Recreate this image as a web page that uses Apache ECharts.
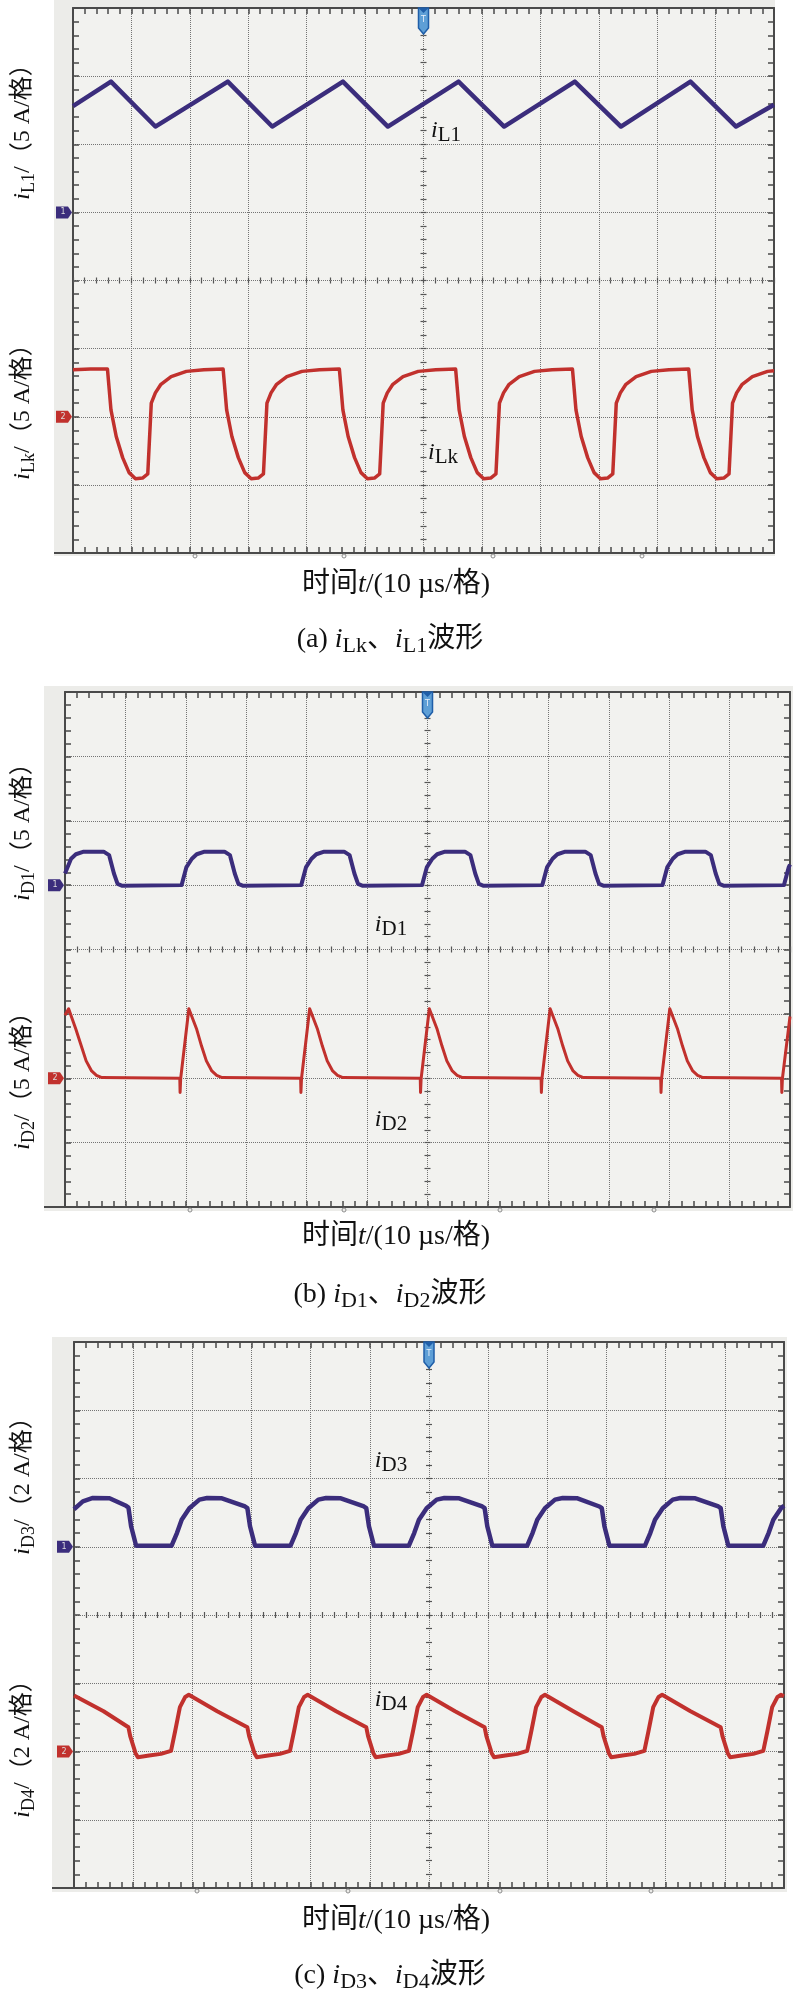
<!DOCTYPE html>
<html><head><meta charset="utf-8">
<script src="https://cdn.jsdelivr.net/npm/echarts@6/dist/echarts.min.js"></script>
<style>html,body{margin:0;padding:0;background:#fff}#c{width:793px;height:2000px}</style>
</head><body><div id="c"></div>
<script>
// ---------- data (time in µs, 10 µs/div, trigger at 0; currents in A) ----------
const timeRange = [-60, 60];
const iL1 = [[-60,7.8],[-53.5,9.6],[-45.9,6.3],[-33.5,9.6],[-25.9,6.3],[-13.8,9.6],[-6.1,6.3],[6.0,9.6],[13.8,6.3],[25.9,9.6],[33.8,6.3],[45.7,9.6],[53.5,6.3],[60,7.9]];
const iLk = [
[-60,3.45],[-57,3.5],
[-54.1,3.5],[-53.5,0.5],[-52.6,-1.45],[-51.5,-3.0],[-50.4,-4.1],[-49.3,-4.55],[-48.1,-4.5],[-47.2,-4.2],[-46.6,1.0],[-45.9,1.75],[-45.0,2.35],[-43.2,2.95],[-40.6,3.33],[-37.6,3.45],
[-34.3,3.5],[-33.7,0.5],[-32.8,-1.45],[-31.7,-3.0],[-30.6,-4.1],[-29.5,-4.55],[-28.3,-4.5],[-27.4,-4.2],[-26.8,1.0],[-26.1,1.75],[-25.2,2.35],[-23.4,2.95],[-20.8,3.33],[-17.8,3.45],
[-14.4,3.5],[-13.8,0.5],[-12.9,-1.45],[-11.8,-3.0],[-10.7,-4.1],[-9.6,-4.55],[-8.4,-4.5],[-7.5,-4.2],[-6.9,1.0],[-6.2,1.75],[-5.3,2.35],[-3.5,2.95],[-0.9,3.33],[2.1,3.45],
[5.5,3.5],[6.1,0.5],[7.0,-1.45],[8.1,-3.0],[9.2,-4.1],[10.3,-4.55],[11.5,-4.5],[12.4,-4.2],[13.0,1.0],[13.7,1.75],[14.6,2.35],[16.4,2.95],[19.0,3.33],[22.0,3.45],
[25.5,3.5],[26.1,0.5],[27.0,-1.45],[28.1,-3.0],[29.2,-4.1],[30.3,-4.55],[31.5,-4.5],[32.4,-4.2],[33.0,1.0],[33.7,1.75],[34.6,2.35],[36.4,2.95],[39.0,3.33],[42.0,3.45],
[45.4,3.5],[46.0,0.5],[46.9,-1.45],[48.0,-3.0],[49.1,-4.1],[50.2,-4.55],[51.4,-4.5],[52.3,-4.2],[52.9,1.0],[53.6,1.75],[54.5,2.35],[56.3,2.95],[58.9,3.33],[60,3.38]];
const iD1 = [
[-60,0.9],[-59.0,2.05],[-58.2,2.4],[-56.9,2.6],[-53.6,2.6],[-52.7,2.33],[-51.9,0.9],[-51.3,0.1],[-50.5,-0.05],
[-40.7,0],[-39.9,1.4],[-39.0,2.05],[-38.2,2.4],[-36.9,2.6],[-33.6,2.6],[-32.7,2.33],[-31.9,0.9],[-31.3,0.1],[-30.5,-0.05],
[-20.9,0],[-20.1,1.4],[-19.2,2.05],[-18.4,2.4],[-17.1,2.6],[-13.8,2.6],[-12.9,2.33],[-12.1,0.9],[-11.5,0.1],[-10.7,-0.05],
[-0.9,0],[-0.1,1.4],[0.8,2.05],[1.6,2.4],[2.9,2.6],[6.2,2.6],[7.1,2.33],[7.9,0.9],[8.5,0.1],[9.3,-0.05],
[19.0,0],[19.8,1.4],[20.7,2.05],[21.5,2.4],[22.8,2.6],[26.1,2.6],[27.0,2.33],[27.8,0.9],[28.4,0.1],[29.2,-0.05],
[38.9,0],[39.7,1.4],[40.6,2.05],[41.4,2.4],[42.7,2.6],[46.0,2.6],[46.9,2.33],[47.7,0.9],[48.3,0.1],[49.1,-0.05],
[59.0,0],[59.8,1.4],[60,1.6]];
const iD2 = [
[-60,4.9],[-59.4,5.4],[-58.2,3.8],[-57.3,2.5],[-56.5,1.35],[-55.6,0.57],[-54.8,0.23],[-53.9,0.05],
[-41.0,0],[-40.95,-1.1],[-40.85,0],[-39.5,5.4],[-38.2,3.8],[-37.4,2.5],[-36.6,1.35],[-35.7,0.57],[-34.9,0.23],[-34.0,0.05],
[-21.0,0],[-20.95,-1.1],[-20.85,0],[-19.5,5.4],[-18.2,3.8],[-17.4,2.5],[-16.6,1.35],[-15.7,0.57],[-14.9,0.23],[-14.0,0.05],
[-1.2,0],[-1.15,-1.1],[-1.05,0],[0.3,5.4],[1.6,3.8],[2.4,2.5],[3.2,1.35],[4.1,0.57],[4.9,0.23],[5.8,0.05],
[18.8,0],[18.85,-1.1],[18.95,0],[20.3,5.4],[21.6,3.8],[22.4,2.5],[23.2,1.35],[24.1,0.57],[24.9,0.23],[25.8,0.05],
[38.6,0],[38.65,-1.1],[38.75,0],[40.1,5.4],[41.4,3.8],[42.2,2.5],[43.0,1.35],[43.9,0.57],[44.7,0.23],[45.6,0.05],
[58.6,0],[58.65,-1.1],[58.75,0],[60,4.8]];
const iD3 = [
[-60,1.10],[-58.5,1.33],[-56.8,1.43],[-54.0,1.42],[-51.2,1.20],[-50.8,1.15],[-50.35,0.6],[-49.5,0.03],[-43.5,0.03],
[-42.6,0.40],[-41.8,0.79],[-40.5,1.13],[-38.8,1.38],[-37.5,1.43],[-35.0,1.42],[-31.1,1.18],[-30.7,1.13],[-30.25,0.6],[-29.4,0.03],[-23.4,0.03],
[-22.5,0.40],[-21.7,0.79],[-20.4,1.13],[-18.7,1.38],[-17.4,1.43],[-14.9,1.42],[-11.0,1.18],[-10.6,1.13],[-10.15,0.6],[-9.3,0.03],[-3.4,0.03],
[-2.5,0.40],[-1.7,0.79],[-0.4,1.13],[1.3,1.38],[2.6,1.43],[5.1,1.42],[9.0,1.18],[9.4,1.13],[9.85,0.6],[10.7,0.03],[16.6,0.03],
[17.5,0.40],[18.3,0.79],[19.6,1.13],[21.3,1.38],[22.6,1.43],[25.1,1.42],[28.8,1.18],[29.2,1.13],[29.65,0.6],[30.5,0.03],[36.5,0.03],
[37.4,0.40],[38.2,0.79],[39.5,1.13],[41.2,1.38],[42.5,1.43],[45.0,1.42],[48.9,1.18],[49.3,1.13],[49.75,0.6],[50.6,0.03],[56.5,0.03],
[57.4,0.40],[58.2,0.79],[59.5,1.13],[60,1.2]];
const iD4 = [
[-60,1.64],[-55,1.18],[-50.8,0.71],
[-50.5,0.45],[-49.6,-0.05],[-49.2,-0.17],[-47.3,-0.12],[-45.3,-0.07],[-43.6,0.02],
[-42.9,0.6],[-42.1,1.3],[-41.2,1.6],[-40.6,1.66],[-35.8,1.18],[-30.7,0.71],
[-30.4,0.45],[-29.5,-0.05],[-29.1,-0.17],[-27.2,-0.12],[-25.2,-0.07],[-23.5,0.02],
[-22.8,0.6],[-22.0,1.3],[-21.1,1.6],[-20.5,1.66],[-15.7,1.18],[-10.6,0.71],
[-10.3,0.45],[-9.4,-0.05],[-9.0,-0.17],[-7.1,-0.12],[-5.1,-0.07],[-3.4,0.02],
[-2.7,0.6],[-1.9,1.3],[-1.0,1.6],[-0.4,1.66],[4.4,1.18],[9.4,0.71],
[9.7,0.45],[10.6,-0.05],[11.0,-0.17],[12.9,-0.12],[14.9,-0.07],[16.6,0.02],
[17.3,0.6],[18.1,1.3],[19.0,1.6],[19.6,1.66],[24.4,1.18],[29.2,0.71],
[29.5,0.45],[30.4,-0.05],[30.8,-0.17],[32.7,-0.12],[34.7,-0.07],[36.4,0.02],
[37.1,0.6],[37.9,1.3],[38.8,1.6],[39.4,1.66],[44.2,1.18],[49.3,0.71],
[49.6,0.45],[50.5,-0.05],[50.9,-0.17],[52.8,-0.12],[54.8,-0.07],[56.5,0.02],
[57.2,0.6],[58.0,1.3],[58.9,1.6],[59.5,1.66],[60,1.62]];

// axis ranges (A): ch1 ground 3 div from top, ch2 ground 6 div from top
const rangeA1 = [-25, 15], rangeA2 = [-10, 30], stepA = 5;
const rangeC1 = [-10, 6], rangeC2 = [-4, 12], stepC = 2;

// ---------- styling ----------
const PURPLE = '#3b2d7c', RED = '#c1312d';
const FONT = "'Liberation Serif','Noto Sans CJK SC',serif";
const GRIDC = '#747474', AXC = '#4a4a4a';

const panels = [
  { grid:{left:73, top:8, width:701, height:545}, box:{x:54, y:0, w:721, h:556},
    ch:[{data:iL1, r:rangeA1, step:stepA, color:PURPLE, w:4.5, label:'1'},
        {data:iLk, r:rangeA2, step:stepA, color:RED, w:3.5, label:'2'}],
    ylab:[{y:126, sub:'L1', unit:'5'}, {y:406, sub:'Lk', unit:'5'}],
    ann:[{x:446, y:131, sub:'L1'}, {x:443, y:453, sub:'Lk'}],
    xlabY:585, capY:640, cap:['a','Lk','L1'], marks:[195,344,493,642] },
  { grid:{left:65, top:692, width:725, height:515}, box:{x:44, y:686, w:749, h:525},
    ch:[{data:iD1, r:rangeA1, step:stepA, color:PURPLE, w:4, label:'1'},
        {data:iD2, r:rangeA2, step:stepA, color:RED, w:3, label:'2'}],
    ylab:[{y:826, sub:'D1', unit:'5'}, {y:1075, sub:'D2', unit:'5'}],
    ann:[{x:391, y:925, sub:'D1'}, {x:391, y:1120, sub:'D2'}],
    xlabY:1237, capY:1295, cap:['b','D1','D2'], marks:[190,344,500,654] },
  { grid:{left:74, top:1342, width:710, height:546}, box:{x:52, y:1337, w:735, h:555},
    ch:[{data:iD3, r:rangeC1, step:stepC, color:PURPLE, w:4.5, label:'1'},
        {data:iD4, r:rangeC2, step:stepC, color:RED, w:4, label:'2'}],
    ylab:[{y:1480, sub:'D3', unit:'2'}, {y:1743, sub:'D4', unit:'2'}],
    ann:[{x:391, y:1461, sub:'D3'}, {x:391, y:1700, sub:'D4'}],
    xlabY:1921, capY:1976, cap:['c','D3','D4'], marks:[197,348,500,651] }
];

const chart = echarts.init(document.getElementById('c'), null, {renderer:'canvas'});
const option = {animation:false, backgroundColor:'#ffffff', grid:[], xAxis:[], yAxis:[], series:[]};

const borderLine = {show:true, onZero:false, lineStyle:{color:AXC, width:2}};
const borderTick = {show:true, inside:true, length:6, lineStyle:{color:AXC, width:1.5}};
const borderMinor = {show:true, splitNumber:5, length:6, lineStyle:{color:AXC, width:1.5}};
const centerTick = (inside) => ({show:true, inside, length:3, lineStyle:{color:'#555', width:1.2}});
const centerMinor = {show:true, splitNumber:5, length:3, lineStyle:{color:'#555', width:1.2}};
const dotted = {show:true, lineStyle:{color:GRIDC, width:1, type:[1,1]}};

panels.forEach((p, k) => {
  const xb = k*4, yb = k*4;
  option.grid.push(Object.assign({show:true, backgroundColor:'#f2f2ef', borderWidth:0, containLabel:false, outerBoundsMode:'none'}, p.grid));
  const xc = {type:'value', gridIndex:k, min:timeRange[0], max:timeRange[1], interval:10, axisLabel:{show:false}, splitLine:{show:false}};
  option.xAxis.push(
    Object.assign({}, xc, {position:'bottom', axisLine:borderLine, axisTick:borderTick, minorTick:borderMinor, splitLine:dotted}),
    Object.assign({}, xc, {position:'top', axisLine:borderLine, axisTick:borderTick, minorTick:borderMinor}),
    Object.assign({}, xc, {position:'bottom', axisLine:{show:false, onZero:true, onZeroAxisIndex:yb+2}, axisTick:centerTick(true), minorTick:centerMinor}),
    Object.assign({}, xc, {position:'bottom', axisLine:{show:false, onZero:true, onZeroAxisIndex:yb+2}, axisTick:centerTick(false), minorTick:centerMinor})
  );
  const c1 = p.ch[0], c2 = p.ch[1];
  option.yAxis.push(
    {type:'value', gridIndex:k, position:'left', min:c1.r[0], max:c1.r[1], interval:c1.step, axisLabel:{show:false},
     axisLine:borderLine, axisTick:borderTick, minorTick:borderMinor, splitLine:dotted},
    {type:'value', gridIndex:k, position:'right', min:c2.r[0], max:c2.r[1], interval:c2.step, axisLabel:{show:false},
     axisLine:borderLine, axisTick:borderTick, minorTick:borderMinor, splitLine:{show:false}},
    {type:'value', gridIndex:k, position:'left', min:-4, max:4, interval:1, axisLabel:{show:false}, splitLine:{show:false},
     axisLine:{show:false, onZero:true, onZeroAxisIndex:xb}, axisTick:centerTick(true), minorTick:centerMinor},
    {type:'value', gridIndex:k, position:'left', min:-4, max:4, interval:1, axisLabel:{show:false}, splitLine:{show:false},
     axisLine:{show:false, onZero:true, onZeroAxisIndex:xb}, axisTick:centerTick(false), minorTick:centerMinor}
  );
  p.ch.forEach((c, j) => {
    option.series.push({type:'line', xAxisIndex:xb, yAxisIndex:yb+j, data:c.data, showSymbol:false, symbol:'none',
      clip:true, z:5, lineStyle:{color:c.color, width:c.w, join:'round'}});
  });
});
chart.setOption(option);

// ---------- texts and markers ----------
function rich(F, Fs, L) {
  return {
    n:{fontSize:F, fontFamily:FONT, lineHeight:L, fill:'#111'},
    i:{fontSize:F, fontFamily:FONT, fontStyle:'italic', lineHeight:L, fill:'#111'},
    s:{fontSize:Fs, fontFamily:FONT, lineHeight:Math.round(Fs*0.6), verticalAlign:'bottom', fill:'#111'}
  };
}
function txt(x, y, str, r, rot) {
  return {type:'text', x, y, rotation:rot||0, z:100, silent:true,
    style:{text:str, rich:r, align:'center', verticalAlign:'middle', fill:'#111', fontFamily:FONT, fontSize:24}};
}
const graphics = [];
panels.forEach((p, k) => {
  const xb = k*4, yb = k*4;
  const g = p.grid, b = p.box;
  graphics.push({type:'rect', z:-100, silent:true, shape:{x:b.x, y:b.y, width:b.w, height:b.h}, style:{fill:'#ecece9'}});
  graphics.push({type:'line', z:50, silent:true, shape:{x1:b.x, y1:g.top+g.height, x2:g.left, y2:g.top+g.height}, style:{stroke:AXC, lineWidth:2}});
  p.marks.forEach(mx => graphics.push({type:'circle', z:50, silent:true, shape:{cx:mx, cy:g.top+g.height+3, r:2}, style:{fill:'none', stroke:'#8a8a8a', lineWidth:1}}));
  p.ylab.forEach(l => graphics.push(txt(23, l.y, '{i|i}{s|' + l.sub + '}{n|/（' + l.unit + ' A/格）}', rich(24, 18, 30), Math.PI/2)));
  p.ann.forEach(a => graphics.push(txt(a.x, a.y, '{i|i}{s|' + a.sub + '}', rich(24, 21, 30))));
  graphics.push(txt(396, p.xlabY, '{n|时间}{i|t}{n|/(10 µs/格)}', rich(28, 22, 34)));
  graphics.push(txt(390, p.capY, '{n|(' + p.cap[0] + ') }{i|i}{s|' + p.cap[1] + '}{n|、}{i|i}{s|' + p.cap[2] + '}{n|波形}', rich(28, 22, 34)));
  p.ch.forEach((c, j) => {
    const pt = chart.convertToPixel({xAxisIndex:xb, yAxisIndex:yb+j}, [timeRange[0], 0]);
    const tx = pt[0] - 1, ty = pt[1];
    graphics.push({type:'polygon', z:60, silent:true, shape:{points:[[tx-16,ty-6],[tx-4,ty-6],[tx,ty],[tx-4,ty+6],[tx-16,ty+6]]}, style:{fill:c.color}});
    graphics.push({type:'text', z:61, silent:true, x:tx-9, y:ty, style:{text:c.label, fill:'#ddd', fontSize:8, fontFamily:'DejaVu Sans', align:'center', verticalAlign:'middle'}});
  });
  const tp = chart.convertToPixel({xAxisIndex:xb, yAxisIndex:yb}, [0, p.ch[0].r[1]]);
  const cx = tp[0], cy = tp[1];
  graphics.push({type:'polygon', z:60, silent:true, shape:{points:[[cx-5,cy],[cx+5,cy],[cx+5,cy+20],[cx,cy+26],[cx-5,cy+20]]}, style:{fill:'#5e9fd6', stroke:'#1f5ea8', lineWidth:1.5}});
  graphics.push({type:'polygon', z:61, silent:true, shape:{points:[[cx-5,cy],[cx+5,cy],[cx,cy+5]]}, style:{fill:'#1f5ea8'}});
  graphics.push({type:'text', z:62, silent:true, x:cx, y:cy+12, style:{text:'T', fill:'#e8f0fa', fontSize:8, fontFamily:'DejaVu Sans', align:'center', verticalAlign:'middle'}});
});
chart.setOption({graphic:{elements:graphics}});
</script>
</body></html>
